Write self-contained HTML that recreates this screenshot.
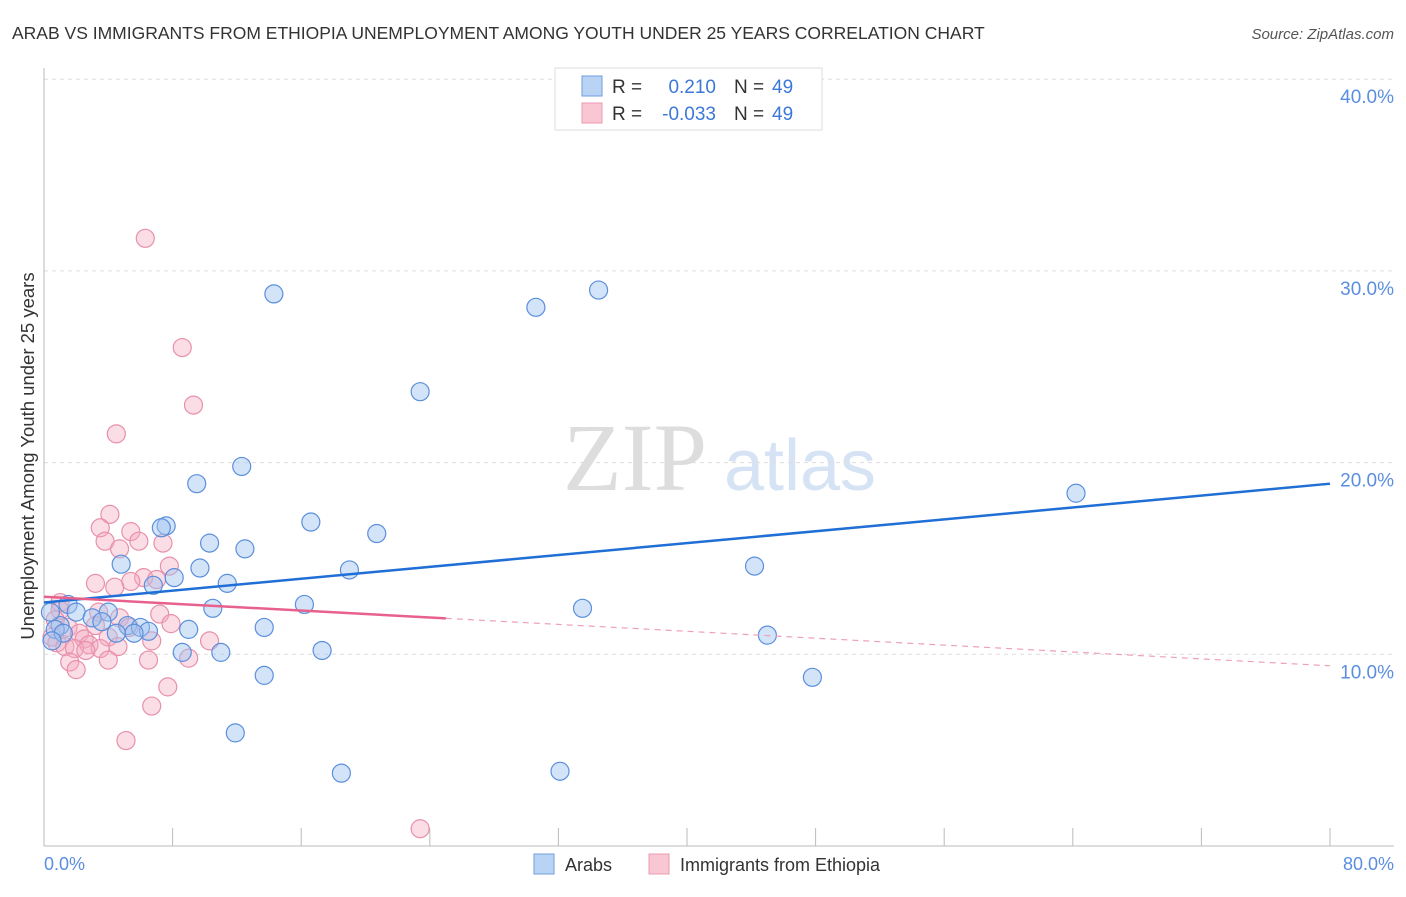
<!DOCTYPE html>
<html><head><meta charset="utf-8"><style>
body{margin:0;background:#fff;font-family:"Liberation Sans",sans-serif}
svg text{font-family:"Liberation Sans",sans-serif}
</style></head><body>
<svg id="c" width="1406" height="892">
<text x="12" y="39" font-size="17.5" fill="#333">ARAB VS IMMIGRANTS FROM ETHIOPIA UNEMPLOYMENT AMONG YOUTH UNDER 25 YEARS CORRELATION CHART</text>
<text x="1394" y="39" font-size="15" fill="#555" font-style="italic" text-anchor="end">Source: ZipAtlas.com</text>
<text x="635" y="490" font-size="96" fill="#ddd" font-family="Liberation Serif" text-anchor="middle" style="font-family:'Liberation Serif',serif">ZIP</text>
<text x="800" y="490" font-size="72" fill="#d6e3f5" text-anchor="middle">atlas</text>
<g id="grid"></g><g id="pts"></g><g id="lines"></g>
<text x="34" y="456" font-size="18.5" fill="#333" text-anchor="middle" transform="rotate(-90 34 456)">Unemployment Among Youth under 25 years</text>
<text x="44" y="870" font-size="18" fill="#5b8ee0">0.0%</text>
<text x="1394" y="870" font-size="18" fill="#5b8ee0" text-anchor="end">80.0%</text>
<g>
<rect x="555" y="68" width="267" height="62" fill="#fff" stroke="#ddd"/>
<rect x="582" y="76" width="20" height="20" fill="#b9d3f5" stroke="#6f9ce0"/>
<rect x="582" y="103" width="20" height="20" fill="#f9c6d4" stroke="#eb9ab2"/>
<text x="612" y="93" font-size="19" fill="#333">R = </text><text x="716" y="93" font-size="19" fill="#3c78d8" text-anchor="end">0.210</text>
<text x="734" y="93" font-size="19" fill="#333">N = </text><text x="772" y="93" font-size="19" fill="#3c78d8">49</text>
<text x="612" y="120" font-size="19" fill="#333">R = </text><text x="716" y="120" font-size="19" fill="#3c78d8" text-anchor="end">-0.033</text>
<text x="734" y="120" font-size="19" fill="#333">N = </text><text x="772" y="120" font-size="19" fill="#3c78d8">49</text>
</g>
<g>
<rect x="534" y="854" width="20" height="20" fill="#b9d3f5" stroke="#6f9ce0"/>
<text x="565" y="871" font-size="18" fill="#333">Arabs</text>
<rect x="649" y="854" width="20" height="20" fill="#f9c6d4" stroke="#eb9ab2"/>
<text x="680" y="871" font-size="18" fill="#333">Immigrants from Ethiopia</text>
</g>
</svg>
<script>
const yTicks=[10,20,30,40];
const yTickLabels=["10.0%","20.0%","30.0%","40.0%"];
const xTicks=[0,8,16,24,32,40,48,56,64,72,80];
const arabX=[14.3,34.5,30.6,23.4,12.3,9.5,64.2,16.6,7.6,7.3,20.7,10.3,12.5,4.8,44.2,19.0,9.7,8.1,6.8,11.4,16.2,33.5,10.5,1.5,2.0,4.0,3.0,3.6,5.2,6.0,13.7,6.5,9.0,1.0,0.7,1.2,4.5,5.6,45.0,8.6,11.0,17.3,13.7,47.8,11.9,18.5,32.1,0.4,0.5];
const arabY=[28.8,29.0,28.1,23.7,19.8,18.9,18.4,16.9,16.7,16.6,16.3,15.8,15.5,14.7,14.6,14.4,14.5,14.0,13.6,13.7,12.6,12.4,12.4,12.6,12.2,12.2,11.9,11.7,11.5,11.4,11.4,11.2,11.3,11.5,11.3,11.1,11.1,11.1,11.0,10.1,10.1,10.2,8.9,8.8,5.9,3.8,3.9,12.2,10.7];
const ethX=[6.3,8.6,9.3,4.5,4.1,3.5,5.4,3.8,5.9,7.4,4.7,7.8,6.2,7.0,5.4,3.2,4.4,1.0,3.4,7.2,4.7,7.9,1.5,2.2,4.0,0.5,2.5,0.8,6.7,10.3,2.8,1.3,4.6,3.5,1.9,2.6,9.0,4.0,6.5,1.6,2.0,7.7,6.7,5.1,23.4,1.0,0.7,3.2,5.3];
const ethY=[31.7,26.0,23.0,21.5,17.3,16.6,16.4,15.9,15.9,15.8,15.5,14.6,14.0,13.9,13.8,13.7,13.5,12.7,12.2,12.1,11.9,11.6,11.4,11.1,10.9,10.9,10.8,10.6,10.7,10.7,10.5,10.4,10.4,10.3,10.3,10.2,9.8,9.7,9.7,9.6,9.2,8.3,7.3,5.5,0.9,12.3,11.8,11.5,11.4];
const arabTrend=[12.7,18.9];
const ethTrend=[13.0,9.4];
const ethSolidEnd=25;
const NS='http://www.w3.org/2000/svg';
const xs=v=>44+v*(1330-44)/80;
const ys=v=>846-v*19.17;
function mk(t,a,p){const e=document.createElementNS(NS,t);for(const k in a)e.setAttribute(k,a[k]);p.appendChild(e);return e;}
const grid=document.getElementById('grid');
yTicks.forEach((t,i)=>{
 const l=mk('line',{x1:44,x2:1394,y1:ys(t),y2:ys(t),stroke:'#ddd','stroke-dasharray':'4,4'},grid);
 
 
 const tx=mk('text',{x:1394,y:ys(t)+24,'font-size':19,fill:'#5b8ee0','text-anchor':'end'},grid);
 tx.textContent=yTickLabels[i];
 
 
});
mk('line',{x1:44,x2:44,y1:68,y2:846,stroke:'#bbb'},grid);
mk('line',{x1:44,x2:1394,y1:846,y2:846,stroke:'#bbb'},grid);
xTicks.forEach(t=>{
 const l=mk('line',{x1:xs(t),x2:xs(t),y1:828,y2:846,stroke:'#bbb'},grid);
 
 
});
const pts=document.getElementById('pts');
ethX.forEach((x,i)=>{
 const c=mk('circle',{cx:xs(x),cy:ys(ethY[i]),r:9,fill:'rgba(245,170,192,0.4)',stroke:'#e890ab','stroke-width':1.2},pts);
 
 
});
arabX.forEach((x,i)=>{
 const c=mk('circle',{cx:xs(x),cy:ys(arabY[i]),r:9,fill:'rgba(160,195,240,0.45)',stroke:'#5b8fdc','stroke-width':1.2},pts);
 
 
});
const lines=document.getElementById('lines');
const bl=mk('line',{x1:xs(0),y1:ys(arabTrend[0]),x2:xs(80),y2:ys(arabTrend[1]),stroke:'#1f6fd6','stroke-width':2.5},lines);


const ym=ethTrend[0]+(ethTrend[1]-ethTrend[0])*ethSolidEnd/80;
const pl=mk('line',{x1:xs(0),y1:ys(ethTrend[0]),x2:xs(ethSolidEnd),y2:ys(ym),stroke:'#e8608c','stroke-width':2.5},lines);


const pd=mk('line',{x1:xs(ethSolidEnd),y1:ys(ym),x2:xs(80),y2:ys(ethTrend[1]),stroke:'#eea0b8','stroke-width':1.2,'stroke-dasharray':'6,5'},lines);


</script>
</body></html>
